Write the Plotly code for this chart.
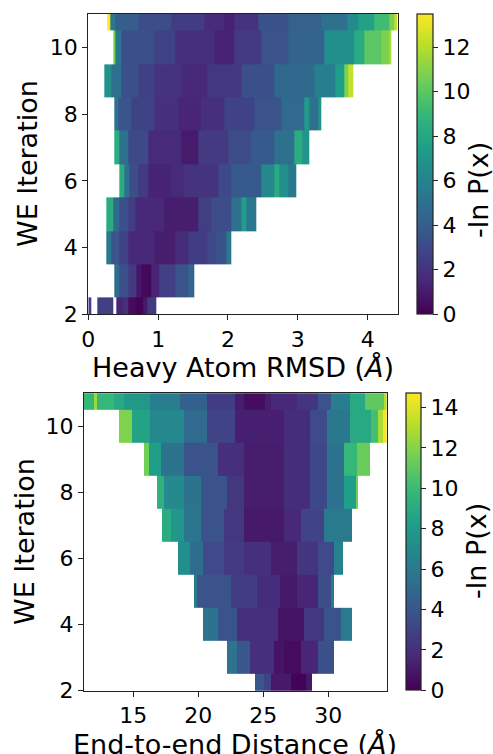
import plotly.graph_objects as go

# ---------------- Data: -ln P(x) per WE iteration (piecewise bins) ----------------
iterations = [2, 3, 4, 5, 6, 7, 8, 9, 10, 11]

# Heavy atom RMSD (Angstrom) - bin edges and values for each iteration
rmsd_edges_2 = [0.0, 0.04, 0.13, 0.36, 0.40, 0.50, 0.57, 0.68, 0.79, 0.84, 0.98]
rmsd_vals_2 = [2.6, None, 2.6, None, 1.4, 1.8, 0.4, 0.1, 1.0, 2.3]
rmsd_edges_3 = [0.37, 0.45, 0.57, 0.69, 0.76, 0.90, 1.02, 1.24, 1.43, 1.52]
rmsd_vals_3 = [4.8, 3.3, 2.3, 0.9, 0.3, 1.4, 2.6, 3.5, 4.4]
rmsd_edges_4 = [0.26, 0.33, 0.45, 0.57, 0.95, 1.24, 1.43, 1.71, 1.83, 1.98, 2.05]
rmsd_vals_4 = [5.4, 3.6, 2.7, 1.5, 1.1, 1.7, 2.4, 3.0, 3.5, 5.4]
rmsd_edges_5 = [0.26, 0.36, 0.45, 0.57, 0.67, 1.09, 1.57, 1.76, 2.05, 2.19, 2.26, 2.40]
rmsd_vals_5 = [8.3, 4.7, 3.3, 2.5, 1.5, 1.1, 2.5, 3.2, 5.0, 7.5, 5.4]
rmsd_edges_6 = [0.44, 0.52, 0.59, 0.71, 0.86, 1.19, 1.38, 1.86, 2.05, 2.48, 2.67, 2.74, 2.86, 2.98]
rmsd_vals_6 = [8.3, 5.0, 3.2, 2.3, 1.3, 1.6, 2.0, 3.0, 3.8, 6.3, 8.3, 6.7, 5.4]
rmsd_edges_7 = [0.37, 0.45, 0.57, 0.86, 1.33, 1.57, 2.0, 2.33, 2.67, 2.95, 3.07, 3.17]
rmsd_vals_7 = [8.3, 5.0, 3.0, 1.6, 1.0, 2.3, 3.2, 3.8, 5.0, 8.3, 7.0]
rmsd_edges_8 = [0.37, 0.43, 0.62, 0.95, 1.29, 1.62, 1.95, 2.38, 2.76, 3.09, 3.16, 3.29, 3.34]
rmsd_vals_8 = [5.0, 3.6, 2.7, 1.9, 1.4, 1.8, 2.7, 3.5, 4.6, 7.3, 5.0, 7.0]
rmsd_edges_9 = [0.23, 0.33, 0.47, 0.71, 0.95, 1.33, 1.71, 2.19, 2.67, 3.24, 3.53, 3.67, 3.72, 3.79]
rmsd_vals_9 = [6.8, 5.0, 3.3, 2.6, 2.0, 1.5, 2.2, 3.3, 4.5, 5.8, 7.5, 10.8, 12.3]
rmsd_edges_10 = [0.36, 0.39, 0.47, 0.95, 1.24, 1.81, 2.09, 2.48, 2.86, 3.38, 3.81, 3.95, 4.19, 4.31, 4.34]
rmsd_vals_10 = [10.8, 5.4, 3.3, 2.7, 1.8, 1.3, 2.3, 3.5, 4.3, 6.7, 8.2, 10.0, 10.8, 11.8]
rmsd_edges_11 = [0.27, 0.31, 0.38, 0.71, 1.19, 1.66, 1.95, 2.09, 2.43, 2.86, 3.33, 3.71, 3.86, 4.10, 4.31, 4.38, 4.43]
rmsd_vals_11 = [13.5, 5.4, 4.0, 3.2, 2.4, 1.7, 1.2, 2.0, 3.4, 4.2, 5.0, 6.5, 7.7, 9.3, 10.8, 12.3]

# End-to-end distance (Angstrom)
dist_edges_2 = [24.34, 25.05, 25.6, 27.1, 28.26, 28.72]
dist_vals_2 = [4.0, 3.0, 1.0, 0.1, 0.9]
dist_edges_3 = [22.24, 23.0, 24.0, 25.8, 26.6, 27.9, 29.2, 30.44]
dist_vals_3 = [5.5, 4.0, 2.0, 0.8, 0.4, 1.5, 3.6]
dist_edges_4 = [20.36, 21.5, 23.0, 26.1, 28.1, 29.7, 31.0, 31.85]
dist_vals_4 = [5.5, 3.8, 2.0, 0.8, 2.4, 3.8, 6.0]
dist_edges_5 = [19.67, 19.9, 22.5, 24.5, 26.3, 27.6, 29.2, 30.2, 30.45]
dist_vals_5 = [6.0, 3.8, 2.6, 1.9, 1.0, 1.5, 3.5, 6.0]
dist_edges_6 = [18.47, 19.4, 20.4, 22.0, 23.5, 25.6, 27.6, 29.2, 30.4, 31.16]
dist_vals_6 = [7.3, 5.2, 3.3, 2.5, 2.0, 1.2, 2.3, 3.3, 6.5]
dist_edges_7 = [17.24, 17.9, 18.9, 20.2, 22.0, 23.5, 26.6, 27.9, 29.7, 31.85]
dist_vals_7 = [9.0, 7.7, 5.8, 3.8, 2.4, 1.0, 1.7, 3.0, 6.0]
dist_edges_8 = [16.8, 17.4, 18.9, 20.2, 22.2, 23.5, 26.6, 28.6, 29.9, 31.2, 32.1, 32.3]
dist_vals_8 = [9.5, 7.0, 5.6, 3.8, 2.4, 1.2, 1.9, 3.2, 5.5, 8.2, 11.5]
dist_edges_9 = [15.83, 16.2, 17.1, 18.9, 21.5, 23.5, 26.6, 28.6, 29.9, 31.2, 32.2, 33.2]
dist_vals_9 = [11.5, 8.2, 5.6, 3.8, 2.0, 1.2, 1.9, 3.2, 5.5, 9.8, 11.3]
dist_edges_10 = [13.93, 14.9, 16.3, 18.9, 20.7, 22.8, 26.6, 28.6, 29.9, 31.7, 33.3, 33.8, 34.2, 34.49]
dist_vals_10 = [11.8, 8.5, 6.9, 5.0, 3.0, 1.3, 1.9, 3.3, 5.9, 8.8, 10.3, 12.8, 14.5]
dist_edges_11 = [11.21, 12.0, 12.2, 13.5, 14.3, 16.3, 18.6, 20.7, 22.8, 23.5, 25.1, 25.6, 27.6, 29.2, 30.2,
                 31.7, 32.8, 34.3, 34.49]
dist_vals_11 = [9.8, 12.5, 9.8, 8.8, 7.8, 6.3, 4.5, 2.6, 1.2, 0.5, 1.2, 1.7, 2.3, 3.8, 6.2, 8.8, 11.0, 13.0]

rmsd_rows = [
    (rmsd_edges_2, rmsd_vals_2), (rmsd_edges_3, rmsd_vals_3), (rmsd_edges_4, rmsd_vals_4),
    (rmsd_edges_5, rmsd_vals_5), (rmsd_edges_6, rmsd_vals_6), (rmsd_edges_7, rmsd_vals_7),
    (rmsd_edges_8, rmsd_vals_8), (rmsd_edges_9, rmsd_vals_9), (rmsd_edges_10, rmsd_vals_10),
    (rmsd_edges_11, rmsd_vals_11),
]
dist_rows = [
    (dist_edges_2, dist_vals_2), (dist_edges_3, dist_vals_3), (dist_edges_4, dist_vals_4),
    (dist_edges_5, dist_vals_5), (dist_edges_6, dist_vals_6), (dist_edges_7, dist_vals_7),
    (dist_edges_8, dist_vals_8), (dist_edges_9, dist_vals_9), (dist_edges_10, dist_vals_10),
    (dist_edges_11, dist_vals_11),
]

rmsd_cmax = 13.5
dist_cmax = 14.7
y_ticks = [2, 4, 6, 8, 10]
rmsd_ticks = [0, 1, 2, 3, 4]
dist_ticks = [15, 20, 25, 30]


def build_grid(rows):
    """Merge per-iteration histogram segments onto one common set of bin edges."""
    xe = sorted({e for edges, _ in rows for e in edges})
    z = []
    for edges, vals in rows:
        line = []
        for k in range(len(xe) - 1):
            mid = 0.5 * (xe[k] + xe[k + 1])
            v = None
            for j in range(len(vals)):
                if edges[j] <= mid < edges[j + 1]:
                    v = vals[j]
                    break
            line.append(v)
        z.append(line)
    ye = [iterations[0] - 0.5] + [it + 0.5 for it in iterations]
    return xe, ye, z


# ---------------- Figure ----------------
W, H = 493, 754
FONT = "DejaVu Sans"
TICK = 22
TITLE = 27

fig = go.Figure()

xe1, ye1, z1 = build_grid(rmsd_rows)
fig.add_trace(go.Heatmap(x=xe1, y=ye1, z=z1, coloraxis="coloraxis",
                         xaxis="x", yaxis="y", hoverinfo="skip"))
xe2, ye2, z2 = build_grid(dist_rows)
fig.add_trace(go.Heatmap(x=xe2, y=ye2, z=z2, coloraxis="coloraxis2",
                         xaxis="x2", yaxis="y2", hoverinfo="skip"))


def px_x(p):
    return p / W


def px_y(p):
    return 1 - p / H


axis_common = dict(
    showline=True, mirror=True, linecolor="#222", linewidth=1.2,
    ticks="outside", ticklen=5, tickwidth=1.2, tickcolor="#222",
    showgrid=False, zeroline=False,
    tickfont=dict(family=FONT, size=TICK, color="black"),
    automargin=False,
)

cb_common = dict(
    xanchor="left", yanchor="top", lenmode="pixels", xpad=0, ypad=0,
    outlinewidth=1.2, outlinecolor="#222",
    ticks="outside", ticklen=5, tickwidth=1.2, tickcolor="#222",
    tickfont=dict(family=FONT, size=TICK, color="black"),
    title=dict(text="", side="right"),
)

fig.update_layout(
    width=W, height=H,
    margin=dict(l=0, r=0, t=0, b=0),
    paper_bgcolor="white", plot_bgcolor="white",
    font=dict(family=FONT, color="black"),
    showlegend=False,
    xaxis=dict(domain=[px_x(88.3), px_x(397.7)], anchor="y", range=[0, 4.43],
               tickvals=rmsd_ticks, **axis_common),
    yaxis=dict(domain=[px_y(314.3), px_y(14)], anchor="x", range=[2, 11],
               tickvals=y_ticks, **axis_common),
    xaxis2=dict(domain=[px_x(84), px_x(386.7)], anchor="y2", range=[11.21, 34.49],
                tickvals=dist_ticks, **axis_common),
    yaxis2=dict(domain=[px_y(690.7), px_y(393.3)], anchor="x2", range=[2, 11],
                tickvals=y_ticks, **axis_common),
    coloraxis=dict(
        colorscale="Viridis", cmin=0, cmax=rmsd_cmax,
        colorbar=dict(x=px_x(416.7), y=px_y(14), len=300.3, thickness=15.6,
                      tickvals=[0, 2, 4, 6, 8, 10, 12], **cb_common),
    ),
    coloraxis2=dict(
        colorscale="Viridis", cmin=0, cmax=dist_cmax,
        colorbar=dict(x=px_x(405.7), y=px_y(393.3), len=297.4, thickness=15,
                      tickvals=[0, 2, 4, 6, 8, 10, 12, 14], **cb_common),
    ),
)

title_font = dict(family=FONT, size=TITLE, color="black")
annots = [
    dict(text="WE Iteration", x=px_x(28), y=px_y(164), textangle=-90),
    dict(text="Heavy Atom RMSD (<i>Å</i>)", x=px_x(243), y=px_y(368), textangle=0),
    dict(text="-ln P(x)", x=px_x(478), y=px_y(190), textangle=-90),
    dict(text="WE Iteration", x=px_x(24), y=px_y(542), textangle=-90),
    dict(text="End-to-end Distance (<i>Å</i>)", x=px_x(235), y=px_y(744), textangle=0),
    dict(text="-ln P(x)", x=px_x(476), y=px_y(551), textangle=-90),
]
for a in annots:
    fig.add_annotation(
        text=a["text"], x=a["x"], y=a["y"], xref="paper", yref="paper",
        xanchor="center", yanchor="middle", textangle=a["textangle"],
        showarrow=False, font=title_font,
    )

fig.write_html("out.html", config={"displayModeBar": False},
               post_script="document.body.style.margin='0';")
